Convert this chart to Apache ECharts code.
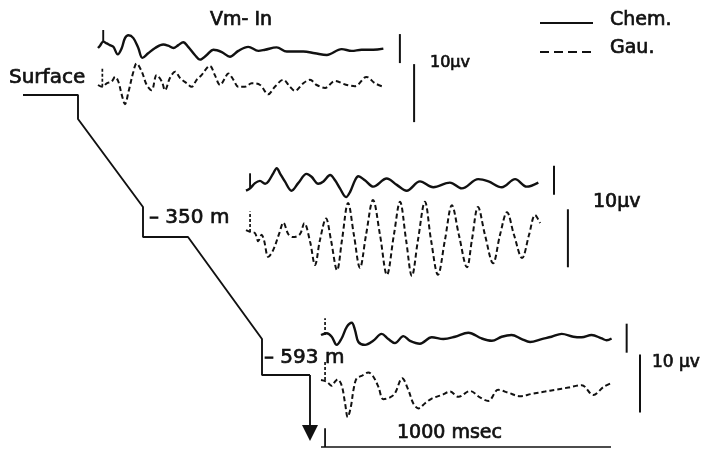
<!DOCTYPE html>
<html>
<head>
<meta charset="utf-8">
<script src="https://cdn.jsdelivr.net/npm/echarts@6/dist/echarts.min.js"></script>
<style>
  html, body { margin: 0; padding: 0; background: #fff; }
  #chart { width: 704px; height: 449px; }
</style>
</head>
<body>
<div id="chart"></div>
<script>
// Vm-In recordings at three depths: [time (msec), amplitude (µV)]
const chemSurface = [[0,0],[7,0.8],[18,2.2],[30,1.6],[41,1.0],[53,0.4],[68,-2.2],[82,0],[93,3.4],[105,4.4],[122,3.4],[139,0],[153,-3.4],[173,-1.8],[197,0],[225,1.2],[242,0.8],[260,0],[277,1.0],[294,2.0],[311,0.4],[334,-2.4],[352,-4.0],[375,-2.4],[398,-0.6],[427,-1.4],[455,-3.0],[484,-1.0],[518,0.4],[553,-1.0],[576,-0.6],[616,0.2],[651,-1.2],[708,-1.2],[748,-1.8],[789,-2.4],[840,-0.4],[875,-1.0],[909,-0.6],[949,-0.6],[984,-0.2]];
const gauSurface = [[0,0],[15,-0.3],[30,0.3],[47,0.6],[59,1.4],[70,0.6],[82,-1.7],[93,-3.3],[105,-1.2],[122,2.3],[133,3.7],[151,2.3],[168,0],[185,-0.9],[202,1.7],[220,0.6],[231,-0.9],[248,1.2],[266,2.3],[283,1.2],[306,0.3],[323,-0.3],[340,0.9],[357,1.7],[375,2.9],[386,3.3],[403,1.7],[421,0],[438,1.2],[449,2.0],[467,0.9],[484,-0.3],[507,-0.3],[530,0.3],[559,0],[587,-1.6],[610,-0.3],[639,0.9],[662,-0.3],[679,-1.0],[708,0.3],[731,0.9],[754,0],[783,-0.5],[817,0.7],[852,0.1],[886,-0.2],[926,1.4],[955,0.3],[984,-0.3]];
const chem350 = [[0,0],[14,0.8],[31,2.6],[48,3.4],[66,2.4],[77,3.2],[94,6.0],[106,7.8],[117,6.0],[134,3.2],[157,0],[180,2.6],[209,5.8],[226,4.8],[249,2.4],[267,3.2],[290,5.4],[307,3.6],[324,0.8],[345,-2.2],[359,-0.4],[376,3.6],[387,5.0],[410,3.6],[439,1.4],[485,4.2],[520,2.0],[554,0],[600,3.2],[646,1.2],[703,2.8],[744,0.8],[801,4.0],[836,3.2],[882,1.2],[928,4.0],[968,1.4],[1008,2.8]];
const gau350 = [[0,-0.2],[14,-0.5],[31,-0.7],[42,-2.1],[54,-1.0],[62,-1.9],[77,-4.8],[94,-3.6],[115,-0.7],[129,1.1],[146,-0.9],[163,-1.4],[186,-0.9],[201,1.0],[221,-2.2],[238,-6.2],[255,-1.9],[276,1.8],[293,-1.9],[314,-7.1],[331,-1.9],[352,4.5],[372,-1.0],[393,-6.7],[414,-1.0],[438,5.0],[462,-1.0],[486,-7.9],[510,-1.0],[531,4.7],[552,-1.9],[572,-8.1],[593,-1.9],[617,4.7],[638,-1.9],[662,-7.9],[686,-1.9],[710,4.1],[734,-1.0],[762,-6.6],[779,-1.9],[800,3.8],[824,-1.0],[852,-5.9],[876,-1.0],[900,2.9],[924,-1.0],[952,-5.0],[976,-1.0],[997,2.4],[1014,1.0]];
const chem593 = [[0,0],[20,0.6],[37,-0.6],[54,-3.4],[71,-1.2],[89,2.8],[106,4.2],[117,1.8],[129,-2.4],[152,-3.4],[180,-2.0],[209,0.4],[232,-1.4],[255,-2.8],[284,-0.4],[307,-2.0],[341,-3.0],[382,-0.8],[422,-1.4],[462,-0.6],[508,0.8],[554,-1.2],[589,-2.0],[623,-0.6],[657,0],[692,-1.4],[721,-2.4],[761,-1.4],[795,-0.6],[830,0.4],[870,-0.6],[899,-0.8],[933,0],[968,-1.2],[985,-1.8],[1002,-1.2]];
const gau593 = [[0,0],[20,-0.3],[37,-1.0],[48,-0.3],[57,0.1],[71,-0.9],[83,-4.0],[92,-6.4],[103,-4.6],[112,-1.7],[123,0.3],[140,0.7],[163,1.3],[180,0.6],[198,-1.2],[215,-3.3],[238,-3.0],[255,-2.3],[280,0.3],[301,-1.7],[318,-4.0],[336,-4.9],[359,-4.0],[382,-3.2],[416,-2.6],[445,-2.0],[474,-2.9],[514,-1.9],[548,-3.0],[577,-3.6],[611,-1.7],[646,-2.2],[686,-2.8],[726,-2.4],[772,-2.0],[807,-1.7],[853,-1.3],[899,-0.9],[939,-2.6],[974,-1.2],[1002,-0.5]];

// stimulus marks: [time, from µV, to µV]
const chemMarks = [[18, 2.2, 6.2], [14, 0.8, 6.0], [14, 0, 5.8]];
const gauMarks = [[15, -0.3, 2.9], [14, -0.5, 3.0], [14, 0, 3.4]];

// 10 µV calibration bars: [time, lower µV]
const chemCal = [[1041, -5.2], [1062, -1.4], [1054, -6.1]];
const gauCal = [[1090, -6.4], [1110, -6.6], [1100, -5.6]];
const calSize = 10;

// 1000 msec time bar under the deepest record: [start, end] msec, level µV
const timeBar = [0, 1000];
const timeBarLevel = -11.55;
const timeBarTick = -8.3;

// borehole profile (schematic offset, schematic depth)
const profileX = [23, 78, 78, 143, 143, 188, 262, 262, 310];
const profileY = [95, 95, 119, 207, 237, 237, 339, 375, 375];
const arrowEnd = 433;

const depthLabels = ['Surface', '– 350 m', '– 593 m'];
const legendNames = ['Chem.', 'Gau.'];
const calLabels = ['10µv', '10µv', '10 µv'];

const INK = '#111';
const FONT = '"DejaVu Sans", sans-serif';

// layout of the six trace panels (left edge, baseline); 0.29 px per msec
const PX_PER_MS = 0.29;
const T_MAX = 1150;
const panels = [
  { left: 98, base: 48 }, { left: 98, base: 85 },
  { left: 246, base: 190.7 }, { left: 246, base: 229 },
  { left: 321, base: 335 }, { left: 321, base: 380 }
];
const traces = [chemSurface, gauSurface, chem350, gau350, chem593, gau593];

const grids = [], xAxes = [], yAxes = [], series = [];
panels.forEach((p, i) => {
  const isChem = i % 2 === 0;
  grids.push({ left: p.left, top: p.base - 29, width: T_MAX * PX_PER_MS, height: 58 });
  xAxes.push({ type: 'value', gridIndex: i, min: 0, max: T_MAX, show: false });
  const r = isChem ? 10 : 5;
  yAxes.push({ type: 'value', gridIndex: i, min: -r, max: r, show: false });
});
// profile grid
grids.push({ left: 0, top: 0, width: 704, height: 449 });
xAxes.push({ type: 'value', gridIndex: 6, min: 0, max: 704, show: false });
yAxes.push({ type: 'value', gridIndex: 6, min: 0, max: 449, inverse: true, show: false });

const lineCommon = { type: 'line', symbol: 'none', clip: false, silent: true, animation: false };

traces.forEach((d, i) => {
  const isChem = i % 2 === 0;
  const k = Math.floor(i / 2);
  series.push(Object.assign({}, lineCommon, {
    name: isChem ? legendNames[0] : legendNames[1],
    xAxisIndex: i, yAxisIndex: i, data: d, smooth: 0.35,
    lineStyle: isChem ? { color: INK, width: 2.4 } : { color: INK, width: 2, type: [5, 3] }
  }));
  const m = isChem ? chemMarks[k] : gauMarks[k];
  const dashedMark = !isChem || k === 2;
  series.push(Object.assign({}, lineCommon, {
    xAxisIndex: i, yAxisIndex: i, data: [[m[0], m[1]], [m[0], m[2]]],
    lineStyle: dashedMark ? { color: INK, width: 1.7, type: [3, 2] } : { color: INK, width: 1.9 }
  }));
  const c = isChem ? chemCal[k] : gauCal[k];
  series.push(Object.assign({}, lineCommon, {
    xAxisIndex: i, yAxisIndex: i, data: [[c[0], c[1]], [c[0], c[1] + calSize]],
    lineStyle: { color: INK, width: 2 }
  }));
});

// time bar
series.push(Object.assign({}, lineCommon, {
  xAxisIndex: 5, yAxisIndex: 5,
  data: [[timeBar[0], timeBarLevel], [timeBar[1], timeBarLevel]],
  lineStyle: { color: INK, width: 1.6 }
}));
series.push(Object.assign({}, lineCommon, {
  xAxisIndex: 5, yAxisIndex: 5,
  data: [[14, timeBarLevel], [14, timeBarTick]],
  lineStyle: { color: INK, width: 1.8 }
}));

// borehole profile
series.push(Object.assign({}, lineCommon, {
  xAxisIndex: 6, yAxisIndex: 6,
  data: profileX.map((x, i) => [x, profileY[i]]),
  lineStyle: { color: INK, width: 1.9 }
}));
const last = profileX.length - 1;
series.push({
  type: 'lines', coordinateSystem: 'cartesian2d', xAxisIndex: 6, yAxisIndex: 6,
  silent: true, animation: false,
  symbol: ['none', 'triangle'], symbolSize: [11, 16],
  lineStyle: { color: INK, width: 1.9, opacity: 1 },
  data: [{ coords: [[profileX[last], profileY[last]], [profileX[last], arrowEnd]] }]
});

function label(text, x, y, size) {
  return {
    type: 'text', x: x, y: y, silent: true,
    style: {
      text: text, font: size + 'px ' + FONT, fill: INK,
      stroke: INK, lineWidth: 0.7,
      verticalAlign: 'middle', textVerticalAlign: 'middle'
    }
  };
}

const graphic = [
  label('Vm- In', 210, 20, 19),
  label(depthLabels[0], 9, 78, 20),
  label(depthLabels[1], 149, 218, 20),
  label(depthLabels[2], 264, 358, 20),
  label(legendNames[0], 610, 20, 19),
  label(legendNames[1], 610, 48, 19),
  label('1000 msec', 397, 433, 19),
  label(calLabels[0], 430, 63, 16),
  label(calLabels[1], 593, 202, 19),
  label(calLabels[2], 652, 363, 17),
  { type: 'line', silent: true, shape: { x1: 540, y1: 23, x2: 593, y2: 23 }, style: { stroke: INK, lineWidth: 2 } },
  { type: 'line', silent: true, shape: { x1: 540, y1: 52, x2: 593, y2: 52 }, style: { stroke: INK, lineWidth: 1.8, lineDash: [9, 5] } }
];

const chart = echarts.init(document.getElementById('chart'), null, { renderer: 'canvas' });
chart.setOption({
  animation: false,
  backgroundColor: '#fff',
  grid: grids, xAxis: xAxes, yAxis: yAxes,
  series: series,
  graphic: graphic
});
</script>
</body>
</html>
